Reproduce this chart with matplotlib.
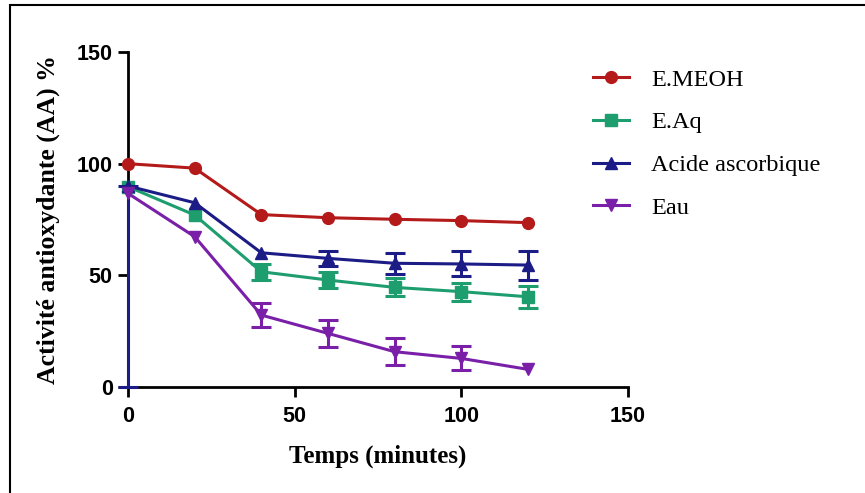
import matplotlib.pyplot as plt
from matplotlib.lines import Line2D
from matplotlib.patches import Rectangle

# Activité antioxydante au cours du temps
temps = [0, 20, 40, 60, 80, 100, 120]

meoh = [100, 98, 77.2, 75.8, 75.1, 74.5, 73.6]
meoh_err = [0, 0, 0, 0, 0, 0, 0]

aq = [89.7, 77, 51.6, 47.9, 44.6, 42.7, 40.4]
aq_err = [0, 0, 3.5, 3.6, 4.0, 4.0, 5.0]

ascorbique = [90, 82.5, 60.1, 57.6, 55.4, 55.1, 54.6]
ascorbique_err_bas = [90, 0, 0, 3.4, 4.6, 5.6, 6.5]
ascorbique_err_haut = [0, 0, 0, 3.4, 4.6, 5.6, 6.5]

eau = [86.7, 67.3, 32.2, 24, 15.8, 12.8, 7.9]
eau_err = [0, 0, 5.4, 6.0, 6.0, 5.4, 0]

series = [
    ('E.MEOH', meoh, meoh_err, meoh_err, '#B41A1A', 'o'),
    ('E.Aq', aq, aq_err, aq_err, '#1E9E6E', 's'),
    ('Acide ascorbique', ascorbique, ascorbique_err_bas, ascorbique_err_haut, '#1C1C86', '^'),
    ('Eau', eau, eau_err, eau_err, '#7A1FA8', 'v'),
]

fig = plt.figure(figsize=(8.65, 4.93), dpi=100)
ax = fig.add_axes([0.148, 0.215, 0.578, 0.6795])

handles = []
for label, y, bas, haut, color, marker in series:
    ax.plot(temps, y, color=color, marker=marker, markersize=8.5, linewidth=2.2,
            clip_on=False, zorder=3)
    # barres d'erreur seulement là où l'écart est non nul
    idx = [i for i in range(len(temps)) if bas[i] > 0 or haut[i] > 0]
    if idx:
        ax.errorbar([temps[i] for i in idx], [y[i] for i in idx],
                    yerr=[[bas[i] for i in idx], [haut[i] for i in idx]],
                    fmt='none', ecolor=color, elinewidth=2.2, capsize=7, capthick=2.2,
                    clip_on=False, zorder=3)
    handles.append(Line2D([], [], color=color, marker=marker, markersize=8.5, linewidth=2.2,
                          label=label))

ax.set_xlim(0, 150)
ax.set_ylim(0, 150)
ax.set_xticks([0, 50, 100, 150])
ax.set_yticks([0, 50, 100, 150])
ax.spines['top'].set_visible(False)
ax.spines['right'].set_visible(False)
for side in ('left', 'bottom'):
    ax.spines[side].set_linewidth(2)
ax.tick_params(width=2, length=7, labelsize=15.5, pad=4)
ax.tick_params(axis='x', pad=7)
for lab in ax.get_xticklabels() + ax.get_yticklabels():
    lab.set_fontweight('bold')
    lab.set_family('Liberation Sans')

ax.set_xlabel('Temps (minutes)', family='Liberation Serif', fontweight='bold',
              fontsize=18, labelpad=12)
ax.set_ylabel('Activité antioxydante (AA) %', family='Liberation Serif', fontweight='bold',
              fontsize=18.5, labelpad=12)

fig.legend(handles=handles, loc='upper left', bbox_to_anchor=(0.66, 0.905), frameon=False,
           prop={'family': 'Liberation Serif', 'size': 17.5}, handlelength=1.5,
           labelspacing=0.85, handletextpad=0.9)

fig.patches.append(Rectangle((0.0116, -0.1), 1.2, 1.09, transform=fig.transFigure,
                             fill=False, edgecolor='black', linewidth=1.5))

fig.savefig('out.png', dpi=100)
